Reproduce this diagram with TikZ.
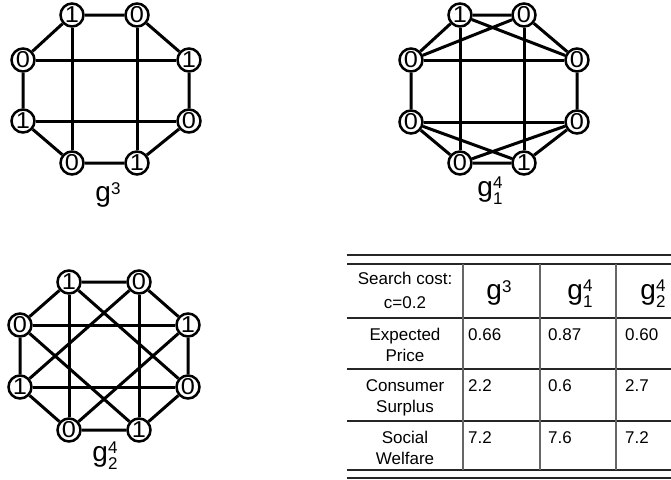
\documentclass[tikz,border=0pt]{standalone}
\usepackage{fontspec}
\setmainfont{Liberation Sans}
\newfontfamily\digfont[FakeStretch=1.1]{Liberation Sans}
\newcommand{\gsupl}[1]{g\raisebox{7pt}{\fontsize{17}{17}\selectfont #1}}
\newcommand{\gssl}[2]{g\makebox[0pt][l]{\raisebox{7.5pt}{\fontsize{17}{17}\selectfont #1}}\raisebox{-8pt}{\fontsize{17}{17}\selectfont #2}}
\tikzset{
  vtx/.style={circle, draw, line width=2.5pt, minimum size=23pt, inner sep=0pt,
    font=\digfont\fontsize{23}{23}\selectfont},
  edg/.style={line width=3pt},
  glab/.style={anchor=base, inner sep=0pt, font=\fontsize{28}{28}\selectfont},
  cell/.style={anchor=base, inner sep=0pt, font=\fontsize{17}{17}\selectfont},
  celll/.style={cell, anchor=base west},
  hrule/.style={line width=1.1pt, black!85},
  vrule/.style={line width=1.2pt, black!60},
}
\begin{document}
\begin{tikzpicture}[x=1pt, y=-1pt]
\fill[white] (0,0) rectangle (671,479);
\useasboundingbox (0,0) rectangle (671,479);

% ---------- graph g^3 ----------
\node[vtx] (a1) at (72,15) {1};
\node[vtx] (a2) at (137,15) {0};
\node[vtx] (a3) at (189,60) {1};
\node[vtx] (a4) at (189,121) {0};
\node[vtx] (a5) at (137,163) {1};
\node[vtx] (a6) at (72,163) {0};
\node[vtx] (a7) at (23,121) {1};
\node[vtx] (a8) at (23,60) {0};
\draw[edg] (a1)--(a2) (a2)--(a3) (a3)--(a4) (a4)--(a5) (a5)--(a6) (a6)--(a7) (a7)--(a8) (a8)--(a1);
\draw[edg] (a1)--(a6) (a2)--(a5) (a8)--(a3) (a7)--(a4);
\node[glab] (la) at (108,201) {\gsupl{3}};

% ---------- graph g_1^4 ----------
\node[vtx] (b1) at (460,15) {1};
\node[vtx] (b2) at (524,15) {0};
\node[vtx] (b3) at (577,60) {0};
\node[vtx] (b4) at (577,122) {0};
\node[vtx] (b5) at (524,163) {1};
\node[vtx] (b6) at (460,163) {0};
\node[vtx] (b7) at (411,122) {0};
\node[vtx] (b8) at (411,60) {0};
\draw[edg] (b1)--(b2) (b2)--(b3) (b3)--(b4) (b4)--(b5) (b5)--(b6) (b6)--(b7) (b7)--(b8) (b8)--(b1);
\draw[edg] (b1)--(b6) (b2)--(b5) (b8)--(b3) (b7)--(b4);
\draw[edg] (b1)--(b3) (b2)--(b8) (b7)--(b5) (b4)--(b6);
\node[glab] (lb) at (490,196) {\gssl{4}{1}};

% ---------- graph g_2^4 ----------
\node[vtx] (c1) at (69,282) {1};
\node[vtx] (c2) at (139,282) {0};
\node[vtx] (c3) at (188,325) {1};
\node[vtx] (c4) at (188,387) {0};
\node[vtx] (c5) at (139,430) {1};
\node[vtx] (c6) at (69,430) {0};
\node[vtx] (c7) at (20,387) {1};
\node[vtx] (c8) at (20,325) {0};
\draw[edg] (c1)--(c2) (c2)--(c3) (c3)--(c4) (c4)--(c5) (c5)--(c6) (c6)--(c7) (c7)--(c8) (c8)--(c1);
\draw[edg] (c1)--(c6) (c2)--(c5) (c8)--(c3) (c7)--(c4);
\draw[edg] (c1)--(c4) (c2)--(c7) (c8)--(c5) (c3)--(c6);
\node[glab] (lc) at (105,461) {\gssl{4}{2}};

% ---------- table ----------
\draw[hrule] (347,255) -- (671,255);
\draw[hrule] (347,264) -- (671,264);
\draw[hrule] (347,318) -- (671,318);
\draw[hrule] (347,369) -- (671,369);
\draw[hrule] (347,421) -- (671,421);
\draw[hrule] (347,470) -- (671,470);
\draw[hrule] (347,478) -- (671,478);
\draw[vrule] (463,264) -- (463,470);
\draw[vrule] (540,264) -- (540,470);
\draw[vrule] (616,264) -- (616,470);

\node[cell] (h1) at (405,284) {Search cost:};
\node[cell] (h2) at (405,308) {c=0.2};
\node[glab] (hg3) at (499,299) {\gsupl{3}};
\node[glab] (hg41) at (580,299) {\gssl{4}{1}};
\node[glab] (hg42) at (653,299) {\gssl{4}{2}};

\node[cell] (r1a) at (405,340) {Expected};
\node[cell] (r1b) at (405,361) {Price};
\node[celll] (v11) at (468,340) {0.66};
\node[celll] (v12) at (548,340) {0.87};
\node[celll] (v13) at (625,340) {0.60};

\node[cell] (r2a) at (405,391) {Consumer};
\node[cell] (r2b) at (405,412) {Surplus};
\node[celll] (v21) at (468,391) {2.2};
\node[celll] (v22) at (548,391) {0.6};
\node[celll] (v23) at (625,391) {2.7};

\node[cell] (r3a) at (405,443) {Social};
\node[cell] (r3b) at (405,464) {Welfare};
\node[celll] (v31) at (468,443) {7.2};
\node[celll] (v32) at (548,443) {7.6};
\node[celll] (v33) at (625,443) {7.2};
\end{tikzpicture}
\end{document}
